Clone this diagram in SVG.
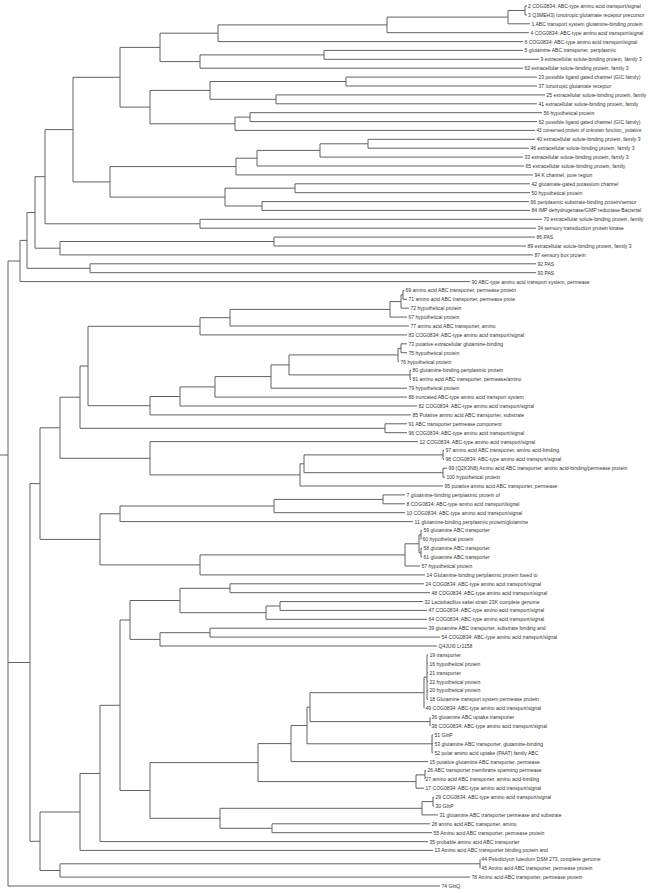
<svg xmlns="http://www.w3.org/2000/svg" width="649" height="893" viewBox="0 0 649 893">
<style>
.b{fill:none;stroke:#626262;stroke-width:1}
text{font-family:"Liberation Sans",Arial,sans-serif;font-size:5.05px;fill:#333}
</style>
<rect width="649" height="893" fill="#fff"/>
<g id="connectors" class="b">
<path d="M525,6V14.9M525,6H527M525,14.9H527M508,10.5V23.8M508,10.5H525M508,23.8H530M387,17.1V32.7M387,17.1H508M387,32.7H529M324,50.4V59.3M324,50.4H523M324,59.3H539M218,24.9V41.6M218,24.9H387M218,41.6H523M200,54.9V68.2M200,54.9H324M200,68.2H523M160,33.2V61.6M160,33.2H218M160,61.6H200"/>
<path d="M346,77.1V86M346,77.1H537M346,86H537M276,94.9V103.8M276,94.9H545M276,103.8H537M250,112.7V121.6M250,112.7H542M250,121.6H537M210,81.5V99.3M210,81.5H346M210,99.3H276M235,117.1V130.4M235,117.1H250M235,130.4H535M150,90.4V123.8M150,90.4H210M150,123.8H235M120,47.4V107.1M120,47.4H160M120,107.1H150"/>
<path d="M368,139.3V148.2M368,139.3H535M368,148.2H529M320,143.8V157.1M320,143.8H368M320,157.1H523M257,150.4V166M257,150.4H320M257,166H524M236,158.2V174.9M236,158.2H257M236,174.9H533M295,183.8V192.7M295,183.8H530M295,192.7H530M262,201.6V210.4M262,201.6H529M262,210.4H530M225,188.2V206M225,188.2H295M225,206H262M110,166.6V197.1M110,166.6H236M110,197.1H225M73,77.3V181.9M73,77.3H120M73,181.9H110M200,219.3V228.2M200,219.3H542M200,228.2H536M45,129.6V223.8M45,129.6H73M45,223.8H200M274,237.1V246M274,237.1H535M274,246H526M60,241.5V254.9M60,241.5H274M60,254.9H533M35,176.7V248.2M35,176.7H45M35,248.2H60M90,263.8V272.7M90,263.8H536M90,272.7H536M27,212.5V268.3M27,212.5H35M27,268.3H90M20,240.4V281.6M20,240.4H27M20,281.6H470"/>
<path d="M403,290.4V299.3M403,290.4H404M403,299.3H407M401,294.9V308.2M401,294.9H403M401,308.2H409M390,301.6V317.1M390,301.6H401M390,317.1H407M230,309.4V326M230,309.4H390M230,326H409M200,317.7V334.9M200,317.7H230M200,334.9H407M401,343.8V352.7M401,343.8H407M401,352.7H407M398,348.3V361.6M398,348.3H401M398,361.6H399M410,370.4V379.3M410,370.4H411M410,379.3H411M289,354.9V374.9M289,354.9H398M289,374.9H410M271,364.9V388.2M271,364.9H289M271,388.2H407M215,376.6V397.1M215,376.6H271M215,397.1H407M180,386.9V406M180,386.9H215M180,406H417M150,396.5V414.9M150,396.5H180M150,414.9H411M385,423.8V432.7M385,423.8H407M385,432.7H407M88,326.3V405.7M88,326.3H200M88,405.7H150M80,366V428.3M80,366H88M80,428.3H385"/>
<path d="M443,450.4V459.3M443,450.4H444M443,459.3H444M443,468.2V477.1M443,468.2H447M443,477.1H445M304,454.9V472.7M304,454.9H443M304,472.7H443M300,463.8V486M300,463.8H304M300,486H443M150,441.6V474.9M150,441.6H418M150,474.9H300M60,397.2V458.3M60,397.2H80M60,458.3H150M383,494.9V503.8M383,494.9H405M383,503.8H405M274,499.4V512.7M274,499.4H383M274,512.7H405M120,506V521.6M120,506H274M120,521.6H413"/>
<path d="M421,530.4V539.3M421,530.4H422M421,548.2V557.1M421,548.2H422M421,557.1H422M419,534.9V552.7M419,534.9H421M419,552.7H421M405,543.8V566M405,543.8H419M405,566H420M200,554.9V574.9M200,554.9H405M200,574.9H425M100,513.8V564.9M100,513.8H120M100,564.9H200M40,427.8V539.4M40,427.8H60M40,539.4H100M230,583.8V592.7M230,583.8H424M230,592.7H430M280,601.6V610.4M280,601.6H423M280,610.4H427M266,606V619.3M266,606H280M266,619.3H427M180,588.3V612.7M180,588.3H230M180,612.7H266M210,628.2V637.1M210,628.2H427M210,637.1H440M160,632.7V646M160,632.7H210M160,646H437M130,600.5V639.4M130,600.5H180M130,639.4H160"/>
<path d="M427,654.9V699.3M427,654.9H428M427,663.8H428M427,672.7H428M427,681.6H428M427,690.4H428M427,699.3H428M424,677.1V708.2M424,677.1H427M430,717.1V726M310,692.7V721.6M310,692.7H424M310,721.6H430M432,734.9V752.7M432,734.9H433M432,743.8H433M432,752.7H433M307,707.2V743.8M307,707.2H310M307,743.8H432M291,725.5V761.6M291,725.5H307M291,761.6H428M425,770.4V779.3M425,770.4H426M416,774.9V788.2M416,774.9H425M416,788.2H424M258,743.6V781.6M258,743.6H291M258,781.6H416"/>
<path d="M433,797.1V806M433,797.1H434M433,806H434M422,801.6V814.9M422,801.6H433M422,814.9H438M272,823.8V832.7M272,823.8H430M272,832.7H432M220,808.3V828.3M220,808.3H422M220,828.3H272M150,762.6V818.3M150,762.6H258M150,818.3H220M120,620V790.5M120,620H130M120,790.5H150M100,705.3V841.6M100,705.3H120M100,841.6H428M80,773.5V850.4M80,773.5H100M80,850.4H433M480,859.3V868.2M60,863.8V877.1M60,863.8H480M60,877.1H470M40,812V870.5M40,812H80M40,870.5H60M30,483.6V841.3M30,483.6H40M30,841.3H40M8,261V886M8,261H20M8,662.5H30M8,886H440M0,455H8"/>
</g>
<g id="leaves">
<g id="n2"><text x="528" y="7.9">2 COG0834: ABC-type amino acid transport/signal</text></g>
<g id="n3"><text x="528" y="16.8">3 Q3MEH3) Ionotropic glutamate receptor precursor</text></g>
<g id="n1"><text x="531.5" y="25.7">1 ABC transport system glutamine-binding protein</text></g>
<g id="n4"><text x="530.5" y="34.6">4 COG0834: ABC-type amino acid transport/signal</text></g>
<g id="n6"><text x="524.5" y="43.5">6 COG0834: ABC-type amino acid transport/signal</text></g>
<g id="n5"><text x="524.5" y="52.3">5 glutamine ABC transporter, periplasmic</text></g>
<g id="n9"><text x="540.5" y="61.2">9 extracellular solute-binding protein, family 3</text></g>
<g id="n63"><text x="524.5" y="70.1">63 extracellular solute-binding protein, family 3</text></g>
<g id="n23"><text x="538.5" y="79">23 possible ligand gated channel (GIC family)</text></g>
<g id="n37"><text x="538.5" y="87.9">37 Ionotropic glutamate receptor</text></g>
<g id="n25"><text x="546.5" y="96.8">25 extracellular solute-binding protein, family</text></g>
<g id="n41"><text x="538.5" y="105.7">41 extracellular solute-binding protein, family</text></g>
<g id="n56"><text x="543.5" y="114.6">56 hypothetical protein</text></g>
<g id="n62"><text x="538.5" y="123.5">62 possible ligand gated channel (GIC family)</text></g>
<g id="n43"><text x="536.5" y="132.2" style="font-size:4.6px">43 conserved protein of unknown function_ putative</text></g>
<g id="n40"><text x="536.5" y="141.2">40 extracellular solute-binding protein, family 3</text></g>
<g id="n46"><text x="530.5" y="150.1">46 extracellular solute-binding protein, family 3</text></g>
<g id="n33"><text x="524.5" y="159">33 extracellular solute-binding protein, family 3</text></g>
<g id="n65"><text x="525.5" y="167.9">65 extracellular solute-binding protein, family</text></g>
<g id="n94"><text x="534.5" y="176.8">94 K channel, pore region</text></g>
<g id="n42"><text x="531.5" y="185.7">42 glutamate-gated potassium channel</text></g>
<g id="n50"><text x="531.5" y="194.6">50 hypothetical protein</text></g>
<g id="n66"><text x="530.5" y="203.5">66 periplasmic substrate-binding protein/sensor</text></g>
<g id="n84"><text x="531.5" y="212.3">84 IMP dehydrogenase/GMP reductase Bacterial</text></g>
<g id="n70"><text x="543.5" y="221.2">70 extracellular solute-binding protein, family</text></g>
<g id="n34"><text x="537.5" y="230.1">34 sensory transduction protein kinase</text></g>
<g id="n86"><text x="536.5" y="239">86 PAS</text></g>
<g id="n89"><text x="527.5" y="247.9">89 extracellular solute-binding protein, family 3</text></g>
<g id="n87"><text x="534.5" y="256.8">87 sensory box protein</text></g>
<g id="n92"><text x="537.5" y="265.7">92 PAS</text></g>
<g id="n93"><text x="537.5" y="274.6">93 PAS</text></g>
<g id="n90"><text x="471.5" y="283.5">90 ABC-type amino acid transport system, permease</text></g>
<g id="n69"><text x="405.5" y="292.3">69 amino acid ABC transporter, permease protein</text></g>
<g id="n71"><text x="408.5" y="301.2">71 amino acid ABC transporter, permease prote</text></g>
<g id="n72"><text x="410.5" y="310.1">72 hypothetical protein</text></g>
<g id="n67"><text x="408.5" y="319">67 hypothetical protein</text></g>
<g id="n77"><text x="410.5" y="327.9">77 amino acid ABC transporter, amino</text></g>
<g id="n83"><text x="408.5" y="336.8">83 COG0834: ABC-type amino acid transport/signal</text></g>
<g id="n73"><text x="408.5" y="345.7">73 putative extracellular glutamine-binding</text></g>
<g id="n75"><text x="408.5" y="354.6">75 hypothetical protein</text></g>
<g id="n76"><text x="400.5" y="363.5">76 hypothetical protein</text></g>
<g id="n80"><text x="412.5" y="372.3">80 glutamine-binding periplasmic protein</text></g>
<g id="n81"><text x="412.5" y="381.2">81 amino acid ABC transporter, permease/amino</text></g>
<g id="n79"><text x="408.5" y="390.1">79 hypothetical protein</text></g>
<g id="n88"><text x="408.5" y="399">88 truncated ABC-type amino acid transport system</text></g>
<g id="n82"><text x="418.5" y="407.9">82 COG0834: ABC-type amino acid transport/signal</text></g>
<g id="n85"><text x="412.5" y="416.8">85 Putative amino acid ABC transporter, substrate</text></g>
<g id="n91"><text x="408.5" y="425.7">91 ABC transporter permease component</text></g>
<g id="n96"><text x="408.5" y="434.6">96 COG0834: ABC-type amino acid transport/signal</text></g>
<g id="n12"><text x="419.5" y="443.5">12 COG0834: ABC-type amino acid transport/signal</text></g>
<g id="n97"><text x="445.5" y="452.3">97 amino acid ABC transporter, amino acid-binding</text></g>
<g id="n98"><text x="445.5" y="461.2">98 COG0834: ABC-type amino acid transport/signal</text></g>
<g id="n99"><text x="448.5" y="470.1">99 (Q2K3N8) Amino acid ABC transporter, amino acid-binding/permease protein</text></g>
<g id="n100"><text x="446.5" y="479">100 hypothetical protein</text></g>
<g id="n95"><text x="444.5" y="487.9">95 putative amino acid ABC transporter, permease</text></g>
<g id="n7"><text x="406.5" y="496.8">7 glutamine-binding periplasmic protein of</text></g>
<g id="n8"><text x="406.5" y="505.7">8 COG0834: ABC-type amino acid transport/signal</text></g>
<g id="n10"><text x="406.5" y="514.6">10 COG0834: ABC-type amino acid transport/signal</text></g>
<g id="n11"><text x="414.5" y="523.5">11 glutamine-binding periplasmic protein/glutamine</text></g>
<g id="n59"><text x="423.5" y="532.3">59 glutamine ABC transporter</text></g>
<g id="n60"><text x="422.5" y="541.2">60 hypothetical protein</text></g>
<g id="n58"><text x="423.5" y="550.1">58 glutamine ABC transporter</text></g>
<g id="n61"><text x="423.5" y="559">61 glutamine ABC transporter</text></g>
<g id="n57"><text x="421.5" y="567.9">57 hypothetical protein</text></g>
<g id="n14"><text x="426.5" y="576.8">14 Glutamine-binding periplasmic protein fused to</text></g>
<g id="n24"><text x="425.5" y="585.7">24 COG0834: ABC-type amino acid transport/signal</text></g>
<g id="n48"><text x="431.5" y="594.6">48 COG0834: ABC-type amino acid transport/signal</text></g>
<g id="n32"><text x="424.5" y="603.5">32 Lactobacillus sakei strain 23K complete genome</text></g>
<g id="n47"><text x="428.5" y="612.3">47 COG0834: ABC-type amino acid transport/signal</text></g>
<g id="n64"><text x="428.5" y="621.2">64 COG0834: ABC-type amino acid transport/signal</text></g>
<g id="n39"><text x="428.5" y="630.1">39 glutamine ABC transporter, substrate binding and</text></g>
<g id="n54"><text x="441.5" y="639">54 COG0834: ABC-type amino acid transport/signal</text></g>
<g id="nQ4JUI0"><text x="438.5" y="647.9">Q4JUI0 Lr1158</text></g>
<g id="n19"><text x="429.5" y="656.8">19 transporter</text></g>
<g id="n16"><text x="429.5" y="665.7">16 hypothetical protein</text></g>
<g id="n21"><text x="429.5" y="674.6">21 transporter</text></g>
<g id="n22"><text x="429.5" y="683.5">22 hypothetical protein</text></g>
<g id="n20"><text x="429.5" y="692.3">20 hypothetical protein</text></g>
<g id="n18"><text x="429.5" y="701.2">18 Glutamine transport system permease protein</text></g>
<g id="n49"><text x="425.5" y="710.1">49 COG0834: ABC-type amino acid transport/signal</text></g>
<g id="n36"><text x="431.5" y="719">36 glutamine ABC uptake transporter</text></g>
<g id="n38"><text x="431.5" y="727.9">38 COG0834: ABC-type amino acid transport/signal</text></g>
<g id="n51"><text x="434.5" y="736.8">51 GlnP</text></g>
<g id="n53"><text x="434.5" y="745.7">53 glutamine ABC transporter, glutamine-binding</text></g>
<g id="n52"><text x="434.5" y="754.6">52 polar amino acid uptake (PAAT) family ABC</text></g>
<g id="n15"><text x="429.5" y="763.5">15 putative glutamine ABC transporter, permease</text></g>
<g id="n26"><text x="427.5" y="772.3">26 ABC transporter membrane spanning permease</text></g>
<g id="n27"><text x="425.5" y="781.2">27 amino acid ABC transporter, amino acid-binding</text></g>
<g id="n17"><text x="425.5" y="790.1">17 COG0834: ABC-type amino acid transport/signal</text></g>
<g id="n29"><text x="435.5" y="799">29 COG0834: ABC-type amino acid transport/signal</text></g>
<g id="n30"><text x="435.5" y="807.9">30 GlnP</text></g>
<g id="n31"><text x="439.5" y="816.8">31 glutamine ABC transporter permease and substrate</text></g>
<g id="n28"><text x="431.5" y="825.7">28 amino acid ABC transporter, amino</text></g>
<g id="n55"><text x="433.5" y="834.6">55 Amino acid ABC transporter, permease protein</text></g>
<g id="n35"><text x="429.5" y="843.5">35 probable amino acid ABC transporter</text></g>
<g id="n13"><text x="434.5" y="852.3">13 Amino acid ABC transporter binding protein and</text></g>
<g id="n44"><text x="481.5" y="861.2">44 Pelodictyon luteolum DSM 273, complete genome</text></g>
<g id="n45"><text x="481.5" y="870.1">45 Amino acid ABC transporter, permease protein</text></g>
<g id="n78"><text x="471.5" y="879">78 Amino acid ABC transporter, permease protein</text></g>
<g id="n74"><text x="441.5" y="887.9">74 GlnQ</text></g>
</g>
</svg>
